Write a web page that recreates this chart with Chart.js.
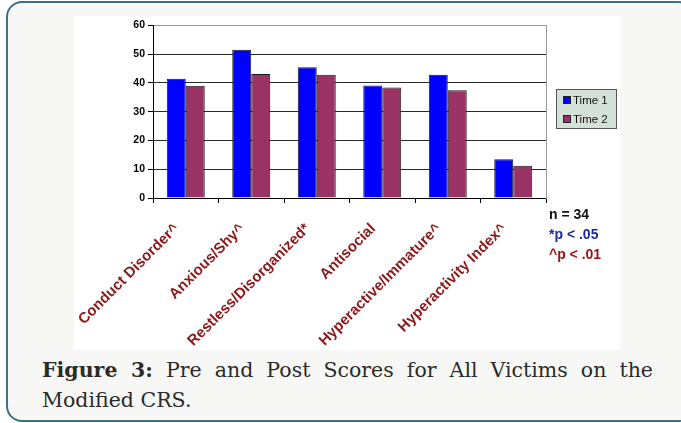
<!DOCTYPE html>
<html>
<head>
<meta charset="utf-8">
<script src="https://cdn.jsdelivr.net/npm/chart.js@4"></script>
<style>
  html, body { margin: 0; padding: 0; background: #ffffff; }
  body { width: 681px; height: 423px; position: relative; overflow: hidden; }
  #frame { position: absolute; left: 6px; top: 1px; width: 684px; height: 417px;
           border: 2px solid #3f6f80; border-radius: 16px; background: #f7f7f5; }
  #chartWrap { position: absolute; left: 74px; top: 16px; width: 546px; height: 334px; background: #ffffff; }
  #legend { position: absolute; left: 556px; top: 89px; width: 59px; height: 38px;
            background: #d3e1d8; border: 1.5px solid #555; font: 11.5px "Liberation Sans", Arial, sans-serif; color: #111; }
  .li { position: absolute; left: 6px; height: 14px; line-height: 14px; white-space: nowrap; }
  .sw { display: inline-block; width: 6px; height: 6px; border: 1px solid #222; margin-right: 2px; vertical-align: 0px; }
  .note { position: absolute; left: 549px; font: bold 14px "Liberation Sans", Arial, sans-serif; white-space: nowrap; }
  .cap { position: absolute; left: 42px; width: 611px; font: 20.5px "DejaVu Serif", "Liberation Serif", serif; color: #2b2b2b; line-height: 30px; white-space: nowrap; }
</style>
</head>
<body>
<div id="frame"></div>
<div id="chartWrap"><canvas id="c" width="546" height="334"></canvas></div>
<div id="legend"></div>
<div class="note" id="n1" style="top:206px;color:#111;"></div>
<div class="note" id="n2" style="top:226px;color:#1f2a9c;"></div>
<div class="note" id="n3" style="top:246px;color:#9c1111;"></div>
<div class="cap" style="top:355px;text-align:justify;text-align-last:justify;"><b>Figure 3:</b> Pre and Post Scores for All Victims on the</div>
<div class="cap" style="top:385px;">Modified CRS.</div>
<script>
const categories = ["Conduct Disorder^", "Anxious/Shy^", "Restless/Disorganized*", "Antisocial", "Hyperactive/Immature^", "Hyperactivity Index^"];
const seriesNames = ["Time 1", "Time 2"];
const time1 = [41.4, 51.5, 45.4, 39.1, 42.8, 13.5];
const time2 = [39.0, 43.1, 42.8, 38.4, 37.4, 11.2];
const seriesColors = ["#0000ff", "#993366"];
const yTicks = [0, 10, 20, 30, 40, 50, 60];
const notes = ["n = 34", "*p < .05", "^p < .01"];

const lg = document.getElementById('legend');
seriesNames.forEach((name, i) => {
  const d = document.createElement('div');
  d.className = 'li';
  d.style.top = (3 + i * 19) + 'px';
  d.innerHTML = '<span class="sw" style="background:' + seriesColors[i] + '"></span>' + name;
  lg.appendChild(d);
});
['n1', 'n2', 'n3'].forEach((id, i) => { document.getElementById(id).textContent = notes[i]; });

new Chart(document.getElementById('c'), {
  type: 'bar',
  data: {
    labels: categories,
    datasets: [
      { label: seriesNames[0], data: time1, backgroundColor: seriesColors[0], borderColor: '#1a1a1a', borderWidth: 1, categoryPercentage: 0.58, barPercentage: 1.0 },
      { label: seriesNames[1], data: time2, backgroundColor: seriesColors[1], borderColor: '#1a1a1a', borderWidth: 1, categoryPercentage: 0.58, barPercentage: 1.0 }
    ]
  },
  options: {
    responsive: false,
    animation: false,
    devicePixelRatio: 1,
    layout: { padding: { top: 9, right: 74, left: 0, bottom: 0 } },
    plugins: { legend: { display: false }, tooltip: { enabled: false } },
    scales: {
      x: {
        grid: { offset: true, drawOnChartArea: false, drawTicks: true, tickLength: 5, tickColor: '#000', color: '#000' },
        border: { display: true, color: '#000', width: 1 },
        ticks: { color: '#8b1a1a', font: { family: 'Liberation Sans, Arial, sans-serif', weight: 'bold', size: 15 }, maxRotation: 45, minRotation: 45, padding: 17, labelOffset: -9, autoSkip: false },
        afterFit: (s) => { s.height = 152; s.paddingLeft = 0; s.paddingRight = 0; }
      },
      y: {
        min: 0, max: 60,
        afterBuildTicks: (s) => { s.ticks = yTicks.map(v => ({ value: v })); },
        grid: { color: (ctx) => (ctx.tick && ctx.tick.value === 60 ? '#9a9a9a' : '#2a2a2a'), tickColor: '#000', tickLength: 5, lineWidth: 1 },
        border: { display: true, color: '#000', width: 1 },
        ticks: { color: '#000', font: { family: 'Liberation Sans, Arial, sans-serif', weight: 'bold', size: 10.5 }, padding: 3 },
        afterFit: (s) => { s.width = 79; }
      },
      y2: {
        position: 'right', min: 0, max: 60,
        grid: { drawOnChartArea: false, drawTicks: false },
        border: { display: true, color: '#9a9a9a', width: 1 },
        ticks: { display: false },
        afterFit: (s) => { s.width = 0; }
      }
    }
  }
});
</script>
</body>
</html>
